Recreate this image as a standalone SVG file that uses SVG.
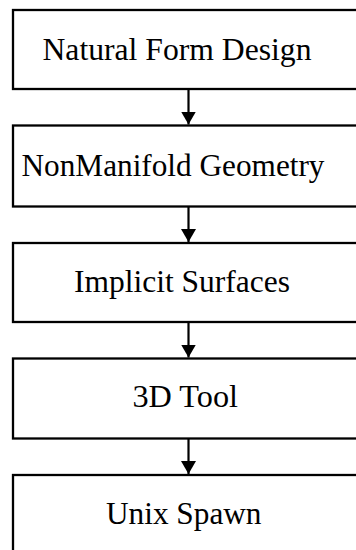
<svg xmlns="http://www.w3.org/2000/svg" width="356" height="550" viewBox="0 0 356 550">
  <style>
    .box { fill: #ffffff; stroke: #000000; stroke-width: 2.3; }
    .lbl { font-family: "Liberation Serif", "Times New Roman", serif; font-size: 31.6px; fill: #000000; }
    .conn { stroke: #000000; stroke-width: 2.2; fill: none; }
  </style>
  <defs>
    <marker id="arrow" markerUnits="userSpaceOnUse" markerWidth="14" markerHeight="16" refX="13" refY="8" orient="auto" viewBox="0 0 14 16">
      <path d="M0,0.5 L13,8 L0,15.5 z" fill="#000000"/>
    </marker>
  </defs>
  <rect x="0" y="0" width="356" height="550" fill="#ffffff"/>
  <g id="n1">
    <rect class="box" x="13" y="10" width="400" height="79"/>
    <text class="lbl" x="42.5" y="59.5" textLength="269" lengthAdjust="spacingAndGlyphs">Natural Form Design</text>
  </g>
  <g id="n2">
    <rect class="box" x="13" y="125.5" width="400" height="81"/>
    <text class="lbl" x="21.5" y="175.5" textLength="303" lengthAdjust="spacingAndGlyphs">NonManifold Geometry</text>
  </g>
  <g id="n3">
    <rect class="box" x="13" y="243" width="400" height="79"/>
    <text class="lbl" x="74" y="292" textLength="216" lengthAdjust="spacingAndGlyphs">Implicit Surfaces</text>
  </g>
  <g id="n4">
    <rect class="box" x="13" y="358.5" width="400" height="80"/>
    <text class="lbl" x="132.5" y="407" textLength="105.5" lengthAdjust="spacingAndGlyphs">3D Tool</text>
  </g>
  <g id="n5">
    <rect class="box" x="13" y="475" width="400" height="100"/>
    <text class="lbl" x="106" y="523.5" textLength="155.5" lengthAdjust="spacingAndGlyphs">Unix Spawn</text>
  </g>
  <g id="connectors">
    <line class="conn" x1="188.5" y1="89" x2="188.5" y2="124.5" marker-end="url(#arrow)"/>
    <line class="conn" x1="188.5" y1="206.5" x2="188.5" y2="242" marker-end="url(#arrow)"/>
    <line class="conn" x1="188.5" y1="322" x2="188.5" y2="357.5" marker-end="url(#arrow)"/>
    <line class="conn" x1="188.5" y1="438.5" x2="188.5" y2="474" marker-end="url(#arrow)"/>
  </g>
</svg>
